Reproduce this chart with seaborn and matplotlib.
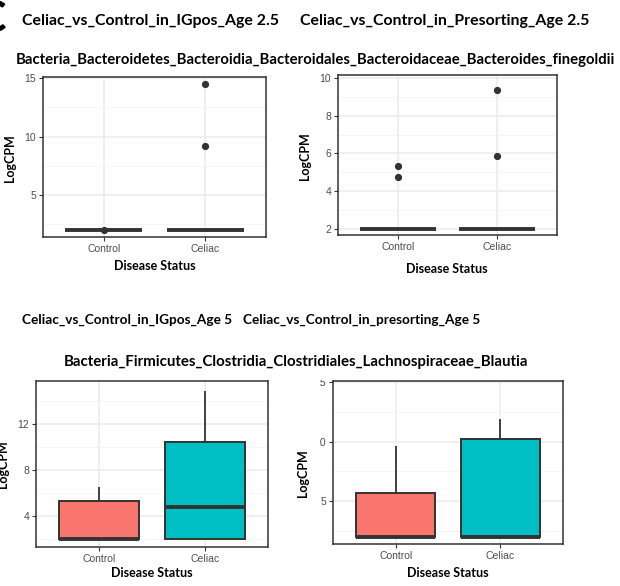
import numpy as np
import pandas as pd
import seaborn as sns
import matplotlib
matplotlib.use('Agg')
import matplotlib.pyplot as plt
from matplotlib.transforms import Bbox, TransformedBbox

# categories and per-panel LogCPM samples
groups = ['Control', 'Celiac']
colors = ['#F8766D', '#00BFC4']

igpos_25_control = [2, 2, 2, 2, 2, 2, 2, 2, 2.02]
igpos_25_celiac = [2, 2, 2, 2, 2, 2, 2, 2, 2, 2, 9.2, 14.5]
presort_25_control = [2, 2, 2, 2, 2, 2, 2, 2, 2, 2, 4.75, 5.35]
presort_25_celiac = [2, 2, 2, 2, 2, 2, 2, 2, 2, 2, 5.88, 9.35]
igpos_5_control = [2, 2, 2, 2, 2, 3.5, 5.3, 5.8, 6.5]
igpos_5_celiac = [2, 2, 2, 3.5, 4.8, 7.0, 10.4, 12.8, 14.9]
presort_5_control = [2, 2, 2, 2, 2, 3.0, 5.7, 7.5, 9.6]
presort_5_celiac = [2, 2, 2, 2, 2, 6.0, 10.25, 11.0, 11.9]

titles_top = ['Celiac_vs_Control_in_IGpos_Age 2.5', 'Celiac_vs_Control_in_Presorting_Age 2.5']
taxon_top = 'Bacteria_Bacteroidetes_Bacteroidia_Bacteroidales_Bacteroidaceae_Bacteroides_finegoldii'
titles_bottom = ['Celiac_vs_Control_in_IGpos_Age 5', 'Celiac_vs_Control_in_presorting_Age 5']
taxon_bottom = 'Bacteria_Firmicutes_Clostridia_Clostridiales_Lachnospiraceae_Blautia'

W, H = 620, 586
sns.set_theme(style='white')
plt.rcParams['font.family'] = ['Liberation Sans', 'DejaVu Sans']

fig = plt.figure(figsize=(W / 100, H / 100), dpi=100)


def px_axes(x0, y0, x1, y1):
    return fig.add_axes([x0 / W, 1 - y1 / H, (x1 - x0) / W, (y1 - y0) / H])


def ftext(x, y, s, **kw):
    return fig.text(x / W, 1 - y / H, s, **kw)


def panel(ax, control, celiac, ylim, yticks, yminor):
    df = pd.DataFrame({
        'status': ['Control'] * len(control) + ['Celiac'] * len(celiac),
        'logcpm': control + celiac,
    })
    sns.boxplot(data=df, x='status', y='logcpm', hue='status', order=groups,
                hue_order=groups, palette=colors, width=0.76, linecolor='#333333',
                linewidth=1.4, showcaps=False, legend=False, saturation=1,
                medianprops={'linewidth': 2.8, 'color': '#333333'},
                whiskerprops={'linewidth': 1.3},
                flierprops={'marker': 'o', 'markersize': 4.2, 'markerfacecolor': '#333333',
                            'markeredgecolor': '#333333'},
                ax=ax)
    ax.set_xlim(-0.6, 1.6)
    ax.set_ylim(*ylim)
    ax.set_yticks(yticks)
    ax.set_yticks(yminor, minor=True)
    ax.set_axisbelow(True)
    ax.grid(which='major', color='#EBEBEB', linewidth=1.1)
    ax.grid(which='minor', axis='y', color='#F4F4F4', linewidth=0.6)
    for sp in ax.spines.values():
        sp.set_color('#333333')
        sp.set_linewidth(1.1)
    ax.tick_params(which='major', direction='out', length=3, width=0.8, color='#333333',
                   labelcolor='#4D4D4D', labelsize=7.5, pad=2, left=True, bottom=True)
    ax.tick_params(which='minor', length=0)
    ax.set_xlabel('')
    ax.set_ylabel('')


ax1 = px_axes(43, 77, 266, 237)
panel(ax1, igpos_25_control, igpos_25_celiac, (1.4, 15.1), [5, 10, 15], [2.5, 7.5, 12.5])
ax2 = px_axes(338, 75, 557, 235)
panel(ax2, presort_25_control, presort_25_celiac, (1.68, 10.15), [2, 4, 6, 8, 10], [3, 5, 7, 9])
ax3 = px_axes(36, 381, 268, 547)
panel(ax3, igpos_5_control, igpos_5_celiac, (1.3, 15.74), [4, 8, 12], [2, 6, 10, 14])
ax4 = px_axes(333, 381, 563, 544)
panel(ax4, presort_5_control, presort_5_celiac, (1.4, 15.1), [5, 10, 15], [2.5, 7.5, 12.5])

# bottom-right tick labels are cropped in the reference
clip = TransformedBbox(Bbox.from_extents(320 / W, 0, 1, 1 - 380 / H), fig.transFigure)
for tick in ax4.yaxis.get_major_ticks():
    tick.label1.set_clip_on(True)
    tick.label1.set_clip_box(clip)

bold = dict(family=['Lato', 'DejaVu Sans'], fontweight='bold', color='black')

# axis labels
ftext(155, 266, 'Disease Status', ha='center', va='center', fontsize=9, **bold)
ftext(10, 158, 'LogCPM', ha='center', va='center', rotation=90, fontsize=9, **bold)
ftext(447, 269, 'Disease Status', ha='center', va='center', fontsize=9, **bold)
ftext(305, 156, 'LogCPM', ha='center', va='center', rotation=90, fontsize=9, **bold)
ftext(152, 573, 'Disease Status', ha='center', va='center', fontsize=9, **bold)
ftext(3, 464, 'LogCPM', ha='center', va='center', rotation=90, fontsize=9, **bold)
ftext(448, 573, 'Disease Status', ha='center', va='center', fontsize=9, **bold)
ftext(303, 473, 'LogCPM', ha='center', va='center', rotation=90, fontsize=9, **bold)

# panel headers
ftext(6, 19, 'C', ha='right', va='center', fontsize=32, **bold)
ftext(22, 21, titles_top[0], ha='left', va='center', fontsize=11.4, **bold)
ftext(300, 21, titles_top[1], ha='left', va='center', fontsize=11.4, **bold)
ftext(315, 60, taxon_top, ha='center', va='center', fontsize=10.7, **bold)
ftext(22, 320, titles_bottom[0], ha='left', va='center', fontsize=9.8, **bold)
ftext(243, 320, titles_bottom[1], ha='left', va='center', fontsize=9.8, **bold)
ftext(296, 362, taxon_bottom, ha='center', va='center', fontsize=10.8, **bold)

fig.savefig('out.png', dpi=100, facecolor='white')
